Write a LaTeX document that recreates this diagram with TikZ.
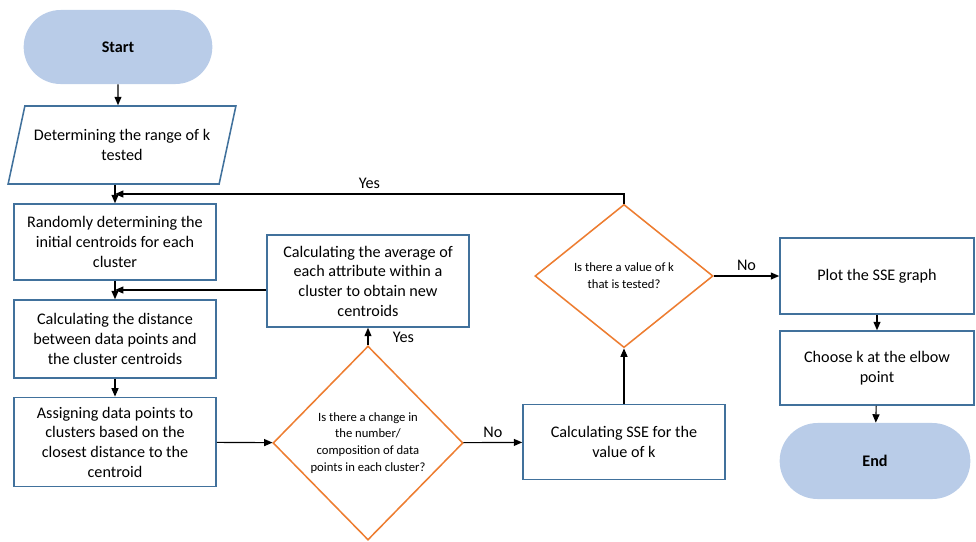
\documentclass[tikz,border=0pt]{standalone}
\usepackage{fontspec}
\setmainfont{Carlito}
\usetikzlibrary{arrows.meta,calc,shapes.geometric,shapes.misc}
\definecolor{boxblue}{HTML}{41719C}
\definecolor{termblue}{HTML}{B9CCE8}
\definecolor{choiceorange}{HTML}{ED7D31}
\tikzset{
    box/.style={draw=boxblue, line width=1.1pt, minimum width=5.05cm,
                minimum height=1.9cm, inner sep=3pt, align=center,
                font={\fontsize{11.5}{14}\selectfont}},
    terminal/.style={rounded rectangle, fill=termblue, minimum width=4.95cm,
                minimum height=1.85cm, font={\fontsize{11.5}{14}\selectfont\bfseries}},
    io/.style={box, trapezium, trapezium left angle=68, trapezium right angle=112,
                trapezium stretches=true, minimum width=5.7cm, minimum height=1.95cm},
    choice/.style={diamond, draw=choiceorange, line width=1.1pt, inner sep=0pt,
                align=center, font={\fontsize{9}{12}\selectfont}},
    flow/.style={-{Triangle[length=6pt,width=5pt]}, line width=0.8pt},
    note/.style={font={\fontsize{11.5}{14}\selectfont}},
}
\begin{document}
\begin{tikzpicture}[x=0.025cm, y=-0.025cm]

    \useasboundingbox (0,0) rectangle (976,541);

    \node[terminal] (start) at (118,47) {Start};
    \node[io] (range) at (122,145) {Determining the range of k\\tested};
    \node[box] (rand) at (115,242) {Randomly determining the\\initial centroids for each\\cluster};
    \node[box, minimum height=1.95cm] (dist) at (115,339) {Calculating the distance\\between data points and\\the cluster centroids};
    \node[box, minimum height=2.23cm] (assign) at (115,442) {Assigning data points to\\clusters based on the\\closest distance to the\\centroid};
    \node[box, minimum height=2.3cm] (avg) at (368,281) {Calculating the average of\\each attribute within a\\cluster to obtain new\\centroids};
    \node[choice, minimum width=4.75cm, minimum height=4.85cm] (chg) at (368,443) {Is there a change in\\the number/\\composition of data\\points in each cluster?};
    \node[box, minimum height=1.88cm] (sse) at (624,442) {Calculating SSE for the\\value of k};
    \node[choice, minimum width=4.45cm, minimum height=3.58cm] (kval) at (624,276) {Is there a value of k\\that is tested?};
    \node[box, minimum width=4.85cm] (plot) at (877,276) {Plot the SSE graph};
    \node[box, minimum width=4.85cm, minimum height=1.85cm] (choose) at (877,368) {Choose k at the elbow\\point};
    \node[terminal, minimum width=5cm, minimum height=1.9cm] (end) at (875,461) {End};

    \coordinate (join0) at ($(rand.north)!0.5!(range.south -| rand.north)$);
    \coordinate (join1) at ($(rand.south)!0.5!(dist.north)$);

    \draw[flow] (start) -- (start |- range.north);
    \draw[flow] (range.south -| rand.north) -- (rand);
    \draw[flow] (rand) -- (dist);
    \draw[flow] (dist) -- (assign);
    \draw[flow] (assign) -- (chg);
    \draw[flow] (chg) -- node[pos=0.45, right=14pt, note] {Yes} (avg);
    \draw[flow] (chg) -- node[above, note] {No} (sse);
    \draw[flow] (sse) -- (kval);
    \draw[flow] (kval) -- node[above, note] {No} (plot);
    \draw[flow] (plot) -- (choose);
    \draw[flow] (choose) -- (end);
    \draw[flow] (kval.north) |- node[pos=0.75, above, note] {Yes} (join0);
    \draw[flow] (avg.west |- join1) -- (join1);

\end{tikzpicture}
\end{document}
